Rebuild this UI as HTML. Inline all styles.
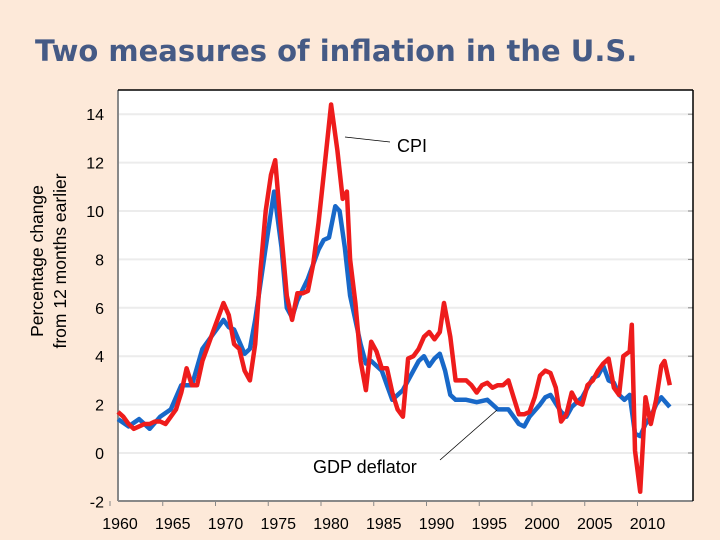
<!DOCTYPE html>
<html><head><meta charset="utf-8"><style>
body{margin:0;background:#fde9d9;}
svg{display:block;font-family:"Liberation Sans",sans-serif;}
</style></head><body>
<svg width="720" height="540">
<rect width="720" height="540" fill="#fde9d9"/>
<text x="35" y="61" font-size="29" font-weight="bold" fill="#455a85" style="font-family:'DejaVu Sans',sans-serif">Two measures of inflation in the U.S.</text>
<rect x="118" y="90" width="575" height="411" fill="#fff"/>
<g id="grid"></g>
<g id="axes"></g>
<g id="series"></g>
<text transform="translate(43,261) rotate(-90)" text-anchor="middle" font-size="17.5" fill="#000"><tspan x="0" dy="0">Percentage change</tspan><tspan x="0" dy="23">from 12 months earlier</tspan></text>
<line x1="345" y1="137" x2="390" y2="142" stroke="#000" stroke-width="0.8"/>
<text x="397" y="152" font-size="18">CPI</text>
<line x1="440" y1="460" x2="497" y2="410" stroke="#000" stroke-width="0.8"/>
<text x="313" y="473" font-size="18">GDP deflator</text>
</svg>
<script>
const yTicks=[-2,0,2,4,6,8,10,12,14];
const xTickLabels=[1960,1965,1970,1975,1980,1985,1990,1995,2000,2005,2010];
const cpiYears=[1960,1960.5,1961,1961.5,1962,1962.5,1963,1963.5,1964,1964.5,1965,1965.5,1966,1966.5,1967,1967.5,1968,1968.5,1969,1969.5,1970,1970.5,1971,1971.5,1972,1972.5,1973,1973.5,1974,1974.5,1974.9,1975.5,1976,1976.5,1977,1977.5,1978,1978.5,1979,1979.5,1980.2,1980.8,1981.3,1981.7,1982,1982.5,1983,1983.5,1984,1984.5,1985,1985.5,1986,1986.5,1987,1987.5,1988,1988.5,1989,1989.5,1990,1990.5,1990.9,1991.5,1992,1992.5,1993,1993.5,1994,1994.5,1995,1995.5,1996,1996.5,1997,1997.5,1998,1998.5,1999,1999.5,2000,2000.5,2001,2001.5,2002,2002.5,2003,2003.5,2004,2004.5,2005,2005.5,2006,2006.5,2007,2007.5,2007.9,2008.5,2008.7,2009,2009.5,2010,2010.5,2011,2011.5,2011.8,2012.3];
const cpiValues=[1.7,1.5,1.2,1.0,1.1,1.2,1.2,1.3,1.3,1.2,1.5,1.8,2.5,3.5,2.8,2.8,3.8,4.4,5.0,5.6,6.2,5.7,4.5,4.3,3.4,3.0,4.5,7.5,10.0,11.5,12.1,9.0,6.5,5.5,6.6,6.6,6.7,7.8,9.5,11.5,14.4,12.5,10.5,10.8,8.0,6.2,3.8,2.6,4.6,4.2,3.5,3.5,2.5,1.8,1.5,3.9,4.0,4.3,4.8,5.0,4.7,5.0,6.2,4.8,3.0,3.0,3.0,2.8,2.5,2.8,2.9,2.7,2.8,2.8,3.0,2.3,1.6,1.6,1.7,2.3,3.2,3.4,3.3,2.7,1.3,1.6,2.5,2.1,2.0,2.8,3.0,3.4,3.7,3.9,2.7,2.4,4.0,4.2,5.3,0.1,-1.6,2.3,1.2,2.2,3.6,3.8,2.8];
const gdpYears=[1960,1961,1962,1963,1964,1965,1966,1967,1968,1969,1970,1970.5,1971,1971.5,1972,1972.5,1973,1974,1974.8,1975.5,1976,1976.5,1977,1978,1979,1979.5,1980,1980.6,1981,1981.5,1982,1983,1983.5,1984,1985,1985.5,1986,1987,1987.5,1988,1988.5,1989,1989.5,1990,1990.5,1991,1991.5,1992,1993,1994,1995,1996,1997,1998,1998.5,1999,2000,2000.5,2001,2002,2002.5,2003,2004,2005,2005.5,2006,2006.5,2007,2007.5,2008,2008.5,2009,2009.5,2010,2010.5,2011,2011.5,2012.3];
const gdpValues=[1.4,1.1,1.4,1.0,1.5,1.8,2.8,2.8,4.3,4.9,5.5,5.2,5.1,4.6,4.1,4.3,5.5,8.5,10.8,8.5,6.0,5.6,6.3,7.2,8.4,8.8,8.9,10.2,10.0,8.5,6.5,4.5,3.7,3.8,3.4,2.8,2.2,2.6,3.0,3.4,3.8,4.0,3.6,3.9,4.1,3.4,2.4,2.2,2.2,2.1,2.2,1.8,1.8,1.2,1.1,1.5,2.0,2.3,2.4,1.7,1.5,1.9,2.3,3.1,3.2,3.6,3.0,2.9,2.4,2.2,2.4,0.8,0.7,1.2,1.5,2.0,2.3,1.9];
const NS="http://www.w3.org/2000/svg";
function yS(v){return 453-24.2*v;}
function xS(yr){return 118+(yr-1960)*10.55;}
function mk(tag,attrs,parent){const e=document.createElementNS(NS,tag);for(const k in attrs)e.setAttribute(k,attrs[k]);document.getElementById(parent).appendChild(e);return e;}
yTicks.forEach(v=>{
  if(v>-2){const g=mk('line',{x1:118,x2:693,y1:yS(v),y2:yS(v),stroke:'#ececec','stroke-width':2},'grid');
  
  }
  const t=mk('text',{x:104,y:yS(v)+6,'text-anchor':'end','font-size':16},'axes');t.textContent=v;
  
  
  const r=mk('line',{x1:688,x2:693,y1:yS(v),y2:yS(v),stroke:'#888'},'axes');
  
  
});
let a=mk('line',{x1:118,x2:118,y1:90,y2:501,stroke:'#888','stroke-width':2},'axes');


a=mk('line',{x1:118,x2:693,y1:501,y2:501,stroke:'#888','stroke-width':2},'axes');


a=mk('line',{x1:118,x2:693,y1:90,y2:90,stroke:'#000','stroke-width':1.5},'axes');


a=mk('line',{x1:693,x2:693,y1:90,y2:501,stroke:'#000','stroke-width':1.5},'axes');


xTickLabels.forEach(yr=>{
  const tk=mk('line',{x1:xS(yr)-8,x2:xS(yr)-8,y1:501,y2:506,stroke:'#888'},'axes');
  
  
  const t=mk('text',{x:xS(yr)+2,y:529,'text-anchor':'middle','font-size':16},'axes');t.textContent=yr;
  
  
});
function pts(xs,vs){return xs.map((x,i)=>xS(x).toFixed(1)+','+yS(vs[i]).toFixed(1)).join(' ');}
const g=mk('polyline',{points:pts(gdpYears,gdpValues),fill:'none',stroke:'#1868c8','stroke-width':4.5,'stroke-linejoin':'round'},'series');


const c=mk('polyline',{points:pts(cpiYears,cpiValues),fill:'none',stroke:'#ee1c1c','stroke-width':4.5,'stroke-linejoin':'round'},'series');


</script>
</body></html>
